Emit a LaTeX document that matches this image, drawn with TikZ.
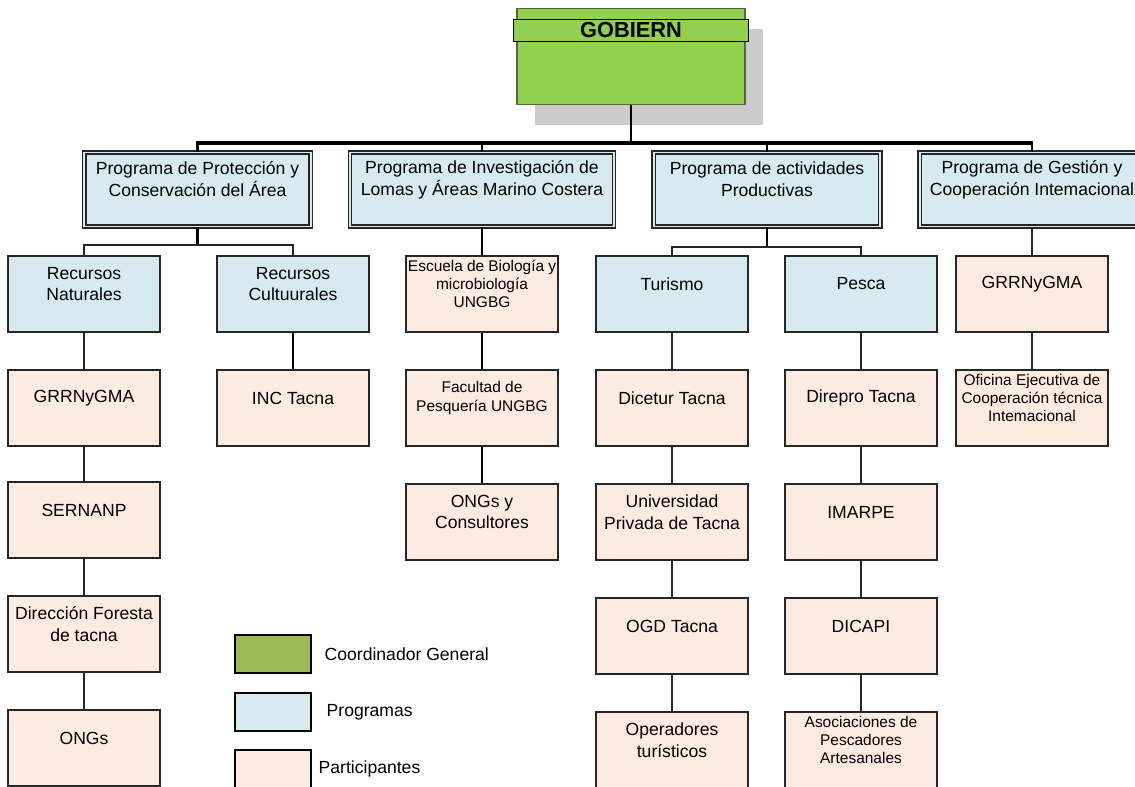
\documentclass[tikz,border=0pt]{standalone}
\usepackage{fontspec}
\setmainfont{Liberation Sans}
\usetikzlibrary{positioning,shadows}

\definecolor{gobgreen}{RGB}{146,208,80}
\definecolor{gobborder}{RGB}{84,104,56}
\definecolor{leggreen}{RGB}{155,187,89}
\definecolor{progblue}{RGB}{214,234,240}
\definecolor{partpeach}{RGB}{252,235,224}
\definecolor{shadowgray}{RGB}{204,204,204}

% text of a box, set a little above the middle
\newcommand{\cell}[2][3.7cm]{\parbox[c][1.85cm][c]{#1}{\centering #2\par\vspace*{0.5cm}}}

\tikzset{
  gobierno/.style={draw=gobborder,line width=0.8pt,fill=gobgreen,minimum width=5.7cm,minimum height=2.4cm,
    drop shadow={shadow xshift=0.45cm,shadow yshift=-0.52cm,fill=shadowgray,opacity=1}},
  titlebar/.style={draw=black,line width=0.7pt,fill=gobgreen,minimum width=5.875cm,minimum height=0.55cm,
    inner sep=0pt,font=\fontsize{15.5}{18}\selectfont\bfseries},
  programa/.style={draw=black!85,line width=0.8pt,double=progblue,double distance=1.4pt,fill=progblue,
    inner sep=0pt,minimum height=1.85cm,font=\fontsize{12.5}{15.5}\selectfont},
  area/.style={draw=black!85,line width=0.9pt,fill=progblue,inner sep=0pt,minimum width=3.8cm,
    minimum height=1.9cm,font=\fontsize{12.5}{15.5}\selectfont},
  participante/.style={area,fill=partpeach},
  small/.style={font=\fontsize{11}{13}\selectfont},
  leyenda/.style={draw=black,line width=2pt,minimum width=1.9cm,minimum height=0.95cm,inner sep=0pt},
  leyendatxt/.style={inner sep=0pt,font=\fontsize{12.5}{15.5}\selectfont},
  bus/.style={line width=2.2pt},
  trunk/.style={line width=1.5pt},
  link/.style={draw=black!85,line width=0.8pt}
}

\begin{document}
\begin{tikzpicture}[x=0.025cm,y=-0.025cm]
        \useasboundingbox (0,0) rectangle (1135,787);

        % Coordinador general
        \node[gobierno] (gobBox) at (631,56.5) {};
        \node[titlebar] (gobTitle) at (631,30.5) {GOBIERN};

        % Programas
        \node[programa,minimum width=5.65cm] (progProt) at (197.5,189.5) {\cell[5.6cm]{Programa de Protección y\\Conservación del Área}};
        \node[programa,minimum width=6.6cm] (progInv) at (482,189.5) {\cell[6.5cm]{Programa de Investigación de\\Lomas y Áreas Marino Costera}};
        \node[programa,minimum width=5.67cm] (progProd) at (767,189.5) {\cell[5.6cm]{Programa de actividades\\Productivas}};
        \node[programa,minimum width=5.62cm] (progGest) at (1032,189.5) {\cell[5.6cm]{Programa de Gestión y\\Cooperación Intemacional}};

        % Protección y conservación
        \node[area] (recNat) at (84,294) {\cell{Recursos\\Naturales}};
        \node[area] (recCult) at (293,294) {\cell{Recursos\\Cultuurales}};
        \node[participante] (grrNat) at (84,408) {\cell{GRRNyGMA}};
        \node[participante] (sernanp) at (84,520) {\cell{SERNANP}};
        \node[participante] (dirFor) at (84,634) {\cell{Dirección Foresta\\de tacna}};
        \node[participante] (ongsNat) at (84,748) {\cell{ONGs}};
        \node[participante] (incTacna) at (293,408) {\cell{INC Tacna}};

        % Investigación
        \node[participante,small] (escBio) at (482,294) {\cell{Escuela de Biología y\\microbiología\\UNGBG}};
        \node[participante,small] (facPes) at (482,408) {\cell{Facultad de\\Pesquería UNGBG}};
        \node[participante] (ongsCons) at (482,522) {\cell{ONGs y\\Consultores}};

        % Actividades productivas
        \node[area] (turismo) at (672,294) {\cell{Turismo}};
        \node[participante] (dicetur) at (672,408) {\cell{Dicetur Tacna}};
        \node[participante] (univPriv) at (672,522) {\cell{Universidad\\Privada de Tacna}};
        \node[participante] (ogdTacna) at (672,636) {\cell{OGD Tacna}};
        \node[participante] (operTur) at (672,750) {\cell{Operadores\\turísticos}};
        \node[area] (pesca) at (861,294) {\cell{Pesca}};
        \node[participante] (direpro) at (861,408) {\cell{Direpro Tacna}};
        \node[participante] (imarpe) at (861,522) {\cell{IMARPE}};
        \node[participante] (dicapi) at (861,636) {\cell{DICAPI}};
        \node[participante,small] (asocPes) at (861,750) {\cell{Asociaciones de\\Pescadores\\Artesanales}};

        % Gestión y cooperación
        \node[participante] (grrGest) at (1032,294) {\cell{GRRNyGMA}};
        \node[participante,small] (ofiCoop) at (1032,408) {\cell{Oficina Ejecutiva de\\Cooperación técnica\\Intemacional}};

        % Junction points
        \coordinate (busL) at (196,143);
        \coordinate (busR) at (1033,143);
        \coordinate (jProt) at (197.5,245);
        \coordinate (jProd) at (767,247);

        % Main bus
        \draw[trunk] (gobBox) -- (gobBox |- busL);
        \draw[bus] (busL) -- (busR);
        \draw[trunk] (progProt.north |- busL) -- (progProt);
        \draw[trunk] (progInv.north |- busL) -- (progInv);
        \draw[trunk] (progProd.north |- busL) -- (progProd);
        \draw[trunk] (progGest.north |- busR) -- (progGest);

        % Protección branches
        \draw[trunk] (progProt) -- (jProt);
        \draw[link] (recNat) |- (jProt) -| (recCult);
        \draw[link] (recNat) -- (grrNat);
        \draw[link] (grrNat) -- (sernanp);
        \draw[link] (sernanp) -- (dirFor);
        \draw[link] (dirFor) -- (ongsNat);
        \draw[trunk] (recCult) -- (incTacna);

        % Investigación branch
        \draw[trunk] (progInv) -- (escBio);
        \draw[trunk] (escBio) -- (facPes);
        \draw[trunk] (facPes) -- (ongsCons);

        % Productivas branches
        \draw[trunk] (progProd) -- (jProd);
        \draw[link] (turismo) |- (jProd) -| (pesca);
        \draw[link] (turismo) -- (dicetur);
        \draw[link] (dicetur) -- (univPriv);
        \draw[link] (univPriv) -- (ogdTacna);
        \draw[link] (ogdTacna) -- (operTur);
        \draw[link] (pesca) -- (direpro);
        \draw[link] (direpro) -- (imarpe);
        \draw[link] (imarpe) -- (dicapi);
        \draw[link] (dicapi) -- (asocPes);

        % Gestión branch
        \draw[link] (progGest) -- (grrGest);
        \draw[link] (grrGest) -- (ofiCoop);

        % Legend
        \node[leyenda,fill=leggreen] (legGob) at (273,654) {};
        \node[leyenda,fill=progblue] (legProg) at (273,712) {};
        \node[leyenda,fill=partpeach] (legPart) at (273,769) {};
        \node[leyendatxt,right=0.3cm of legGob] (legGobTxt) {Coordinador General};
        \node[leyendatxt,right=0.35cm of legProg] (legProgTxt) {Programas};
        \node[leyendatxt,right=0.15cm of legPart] (legPartTxt) {Participantes};
\end{tikzpicture}
\end{document}
